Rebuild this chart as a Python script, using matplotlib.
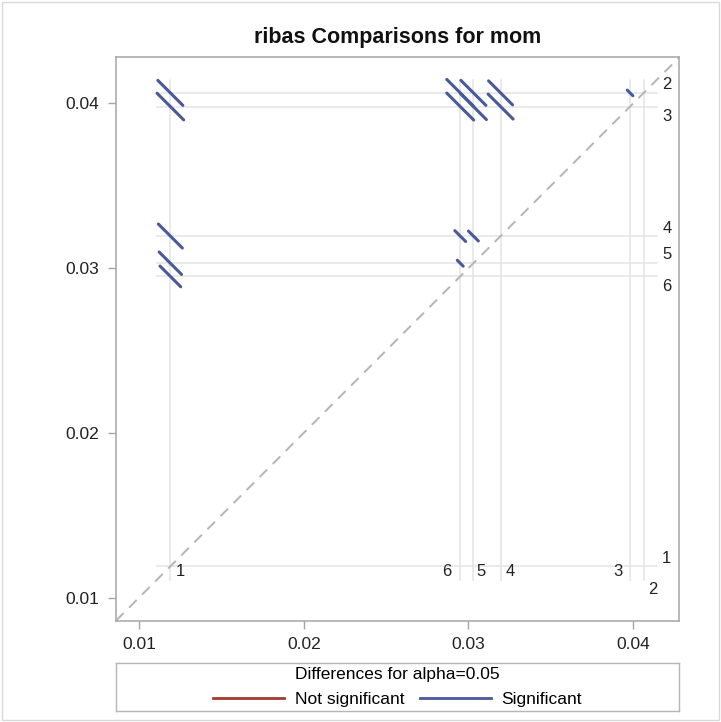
import numpy as np
import matplotlib.pyplot as plt
from matplotlib.lines import Line2D
from matplotlib.patches import Rectangle

plt.rcParams['font.family'] = ['Liberation Sans', 'DejaVu Sans']

# medias de mom por nivel de ribas
niveles = [1, 2, 3, 4, 5, 6]
medias = [0.01190, 0.04064, 0.03981, 0.03195, 0.03030, 0.02950]

# pares comparados (x = nivel a, y = nivel b) y semiamplitud del IC de la diferencia
par_a = [1, 1, 1, 1, 1, 6, 5, 4, 6, 5, 4, 6, 5, 6, 3]
par_b = [2, 3, 4, 5, 6, 2, 2, 2, 3, 3, 3, 4, 4, 5, 2]
semi_ic = [0.00152, 0.00162, 0.00146, 0.00136, 0.00126,
           0.00164, 0.00152, 0.00146, 0.00164, 0.00158, 0.00152,
           0.00066, 0.00060, 0.00036, 0.00034]

ticks = [0.01, 0.02, 0.03, 0.04]
tick_labels = ["0.01", "0.02", "0.03", "0.04"]

titulo = "ribas Comparisons for mom"
titulo_leyenda = "Differences for alpha=0.05"
etiquetas_leyenda = ["Not significant", "Significant"]

# desplazamientos (pixeles) de las etiquetas de nivel
dy_derecha = {1: 8, 2: 8, 3: -10, 4: 8, 5: 9, 6: -10}
dx_abajo = {1: 10, 2: 9, 3: -12, 4: 10, 5: 8, 6: -13}
dy_abajo = {1: 0, 2: -18, 3: 0, 4: 0, 5: 0, 6: 0}

azul = '#4a5a99'
rojo = '#a5392f'
gris_ref = '#e4e4e4'
gris_marco = '#a6a6a6'

W, H = 721, 722
fig = plt.figure(figsize=(W / 100, H / 100), dpi=100)
ax = fig.add_axes([116 / W, 1 - 620.7 / H, (679.3 - 116) / W, (620.7 - 57.3) / H])

lim = (0.0086, 0.0428)
ax.set_xlim(lim)
ax.set_ylim(lim)

m = dict(zip(niveles, medias))
lo = min(medias) - 0.0008
hi = max(medias) + 0.0008

# lineas de referencia
for nv in niveles:
    ax.plot([m[nv], m[nv]], [lo, hi], color=gris_ref, lw=1.1, zorder=1)
    ax.plot([lo, hi], [m[nv], m[nv]], color=gris_ref, lw=1.1, zorder=1)

# diagonal
ax.plot(lim, lim, color='#b5b5b5', lw=1.4, linestyle=(0, (5.5, 4)), zorder=2)

# segmentos del diffogram
for a, b, s in zip(par_a, par_b, semi_ic):
    x, y = m[a], m[b]
    h = s / 2
    sig = abs(y - x) / 2 > h
    ax.plot([x - h, x + h], [y + h, y - h], color=azul if sig else rojo,
            lw=2.2, solid_capstyle='round', zorder=3)

# etiquetas de niveles
x_der = 0.04204
y_abajo = 0.01161
for nv in niveles:
    ax.annotate(str(nv), (x_der, m[nv]), xytext=(0, dy_derecha[nv]),
                textcoords='offset pixels', ha='center', va='center',
                fontsize=12, color='#222222', annotation_clip=False)
    ax.annotate(str(nv), (m[nv], y_abajo), xytext=(dx_abajo[nv], dy_abajo[nv]),
                textcoords='offset pixels', ha='center', va='center',
                fontsize=12, color='#222222', annotation_clip=False)

ax.set_xticks(ticks)
ax.set_xticklabels(tick_labels)
ax.set_yticks(ticks)
ax.set_yticklabels(tick_labels)
ax.tick_params(direction='out', length=6, width=1, color=gris_marco,
               labelsize=12.5, labelcolor='#222222', pad=6)
for sp in ax.spines.values():
    sp.set_color(gris_marco)
    sp.set_linewidth(1.1)

fig.text((116 + 679.3) / 2 / W, 1 - 37 / H, titulo, ha='center', va='center',
         fontsize=15.5, fontweight='bold', color='#111111')

# leyenda
axl = fig.add_axes([116 / W, 1 - 710.7 / H, (679.3 - 116) / W, (710.7 - 663) / H])
axl.set_xticks([])
axl.set_yticks([])
for sp in axl.spines.values():
    sp.set_color('#b5b5b5')
    sp.set_linewidth(1)
handles = [Line2D([], [], color=rojo, lw=2), Line2D([], [], color=azul, lw=2)]
leg = axl.legend(handles, etiquetas_leyenda, title=titulo_leyenda, loc='center',
                 ncol=2, frameon=False, fontsize=12.5, title_fontsize=12.5,
                 handlelength=4.1, handletextpad=0.6, columnspacing=0.9,
                 borderpad=0, borderaxespad=0, labelspacing=0)
leg._legend_box.sep = 7

fig.patches.append(Rectangle((2 / W, 2 / H), 1 - 4 / W, 1 - 4 / H, transform=fig.transFigure,
                             fill=False, edgecolor='#d9d9d9', lw=1))

fig.savefig('out.png', dpi=100)
